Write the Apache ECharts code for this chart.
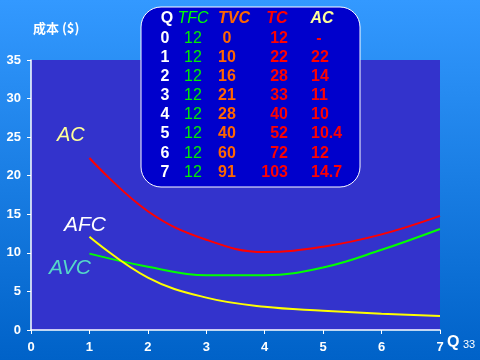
<!DOCTYPE html>
<html><head><meta charset="utf-8">
<script src="https://cdn.jsdelivr.net/npm/echarts@6/dist/echarts.min.js"></script>
<style>html,body{margin:0;padding:0;background:#1a7fe6;}#c{width:480px;height:360px;}</style>
</head><body><div id="c"></div>
<script>
// Table data
const qTable = [0, 1, 2, 3, 4, 5, 6, 7];
const tfcTable = [12, 12, 12, 12, 12, 12, 12, 12];
const tvcTable = [0, 10, 16, 21, 28, 40, 60, 91];
const tcTable = [12, 22, 28, 33, 40, 52, 72, 103];
const acTable = ['-', '22', '14', '11', '10', '10.4', '12', '14.7'];
const tableHeaders = ['Q', 'TFC', 'TVC', 'TC', 'AC'];

// Curve data (Q = 1..7)
const qValues = [1, 2, 3, 4, 5, 6, 7];
const acValues = [22.3, 15.4, 11.7, 10.1, 10.8, 12.4, 14.8];
const avcValues = [9.9, 8.2, 7.1, 7.1, 8.1, 10.4, 13.1];
const afcValues = [12.1, 6.8, 4.2, 3.0, 2.5, 2.1, 1.8];

const xTicks = [0, 1, 2, 3, 4, 5, 6, 7];
const yTicks = [0, 5, 10, 15, 20, 25, 30, 35];

const chart = echarts.init(document.getElementById('c'), null, {renderer: 'canvas'});

const FONT = '"Liberation Sans", Arial, sans-serif';
const shadow = {textShadowColor: 'rgba(0,0,0,0.9)', textShadowOffsetX: 1, textShadowOffsetY: 1, textShadowBlur: 0};

function txt(text, x, y, opts) {
  return {
    type: 'text', x: x, y: y, z: 20,
    style: Object.assign({
      text: String(text), fontFamily: FONT, fontSize: 16, fontWeight: 'bold',
      fill: '#fff', align: 'center', verticalAlign: 'middle'
    }, opts || {})
  };
}

const graphics = [];
// table box
graphics.push({
  type: 'rect', z: 15,
  shape: {x: 141, y: 7, width: 219, height: 180, r: 20},
  style: {fill: '#0000cc', stroke: '#ffffff', lineWidth: 1}
});
// headers
const hy = 19;
graphics.push(txt(tableHeaders[0], 167, hy, shadow));
graphics.push(txt(tableHeaders[1], 193, hy, {fill: '#00ff00', fontStyle: 'italic', fontWeight: 'normal', fontSize: 16}));
graphics.push(txt(tableHeaders[2], 234, hy, Object.assign({fill: '#ff6600', fontStyle: 'italic'}, shadow)));
graphics.push(txt(tableHeaders[3], 277, hy, Object.assign({fill: '#ff0000', fontStyle: 'italic'}, shadow)));
graphics.push(txt(tableHeaders[4], 322, hy, Object.assign({fill: '#ffff99', fontStyle: 'italic'}, shadow)));
// rows
for (let i = 0; i < qTable.length; i++) {
  const y = 38.5 + i * 19.1;
  graphics.push(txt(qTable[i], 165, y, shadow));
  graphics.push(txt(tfcTable[i], 193, y, {fill: '#00ee00', fontWeight: 'normal', fontSize: 16}));
  graphics.push(txt(tvcTable[i], 227, y, Object.assign({fill: '#ff6600'}, shadow)));
  graphics.push(txt(tcTable[i], 288, y, Object.assign({fill: '#ff0000', align: 'right'}, shadow)));
  graphics.push(txt(acTable[i], acTable[i] === '-' ? 319 : 311, y, Object.assign({fill: '#ff0000', align: acTable[i] === '-' ? 'center' : 'left'}, shadow)));
}
// title
graphics.push(txt('成本 ($)', 33, 28, {fontFamily: '"Noto Sans CJK SC", sans-serif', fontSize: 13, align: 'left'}));
// curve labels
graphics.push(txt('AC', 57, 135, {fill: '#ffff99', fontStyle: 'italic', fontWeight: 'normal', fontSize: 20, align: 'left', textShadowColor: 'rgba(0,0,0,0.8)', textShadowOffsetX: 1, textShadowOffsetY: 1}));
graphics.push(txt('AFC', 64, 225, {fill: '#ffffff', fontStyle: 'italic', fontWeight: 'normal', fontSize: 21, align: 'left', textShadowColor: 'rgba(0,0,0,0.8)', textShadowOffsetX: 1, textShadowOffsetY: 1}));
graphics.push(txt('AVC', 49, 268, {fill: '#55d8c8', fontStyle: 'italic', fontWeight: 'normal', fontSize: 21, align: 'left'}));
// Q and page number
graphics.push(txt('Q', 447, 343, Object.assign({fontSize: 16, align: 'left'}, shadow)));
graphics.push(txt('33', 463, 345, {fontSize: 11, fontWeight: 'normal', align: 'left', textShadowColor: '#000', textShadowOffsetX: 1, textShadowOffsetY: 1}));

const axisCommon = {
  axisLine: {show: true, lineStyle: {color: '#ffffff', width: 1.5}},
  axisTick: {show: true, inside: false, length: 4, lineStyle: {color: '#ffffff'}},
  splitLine: {show: false},
  axisLabel: {color: '#ffffff', fontFamily: FONT, fontWeight: 'bold', fontSize: 13}
};

chart.setOption({
  animation: false,
  backgroundColor: {
    type: 'linear', x: 0, y: 0, x2: 0, y2: 1,
    colorStops: [{offset: 0, color: '#3399ff'}, {offset: 1, color: '#0062c8'}]
  },
  grid: {left: 31, right: 40, top: 60, bottom: 30, show: true, backgroundColor: '#3333cc', borderWidth: 0},
  xAxis: Object.assign({}, axisCommon, {
    type: 'value', min: xTicks[0], max: xTicks[xTicks.length - 1], interval: 1,
    axisLabel: Object.assign({}, axisCommon.axisLabel, {margin: 11})
  }),
  yAxis: Object.assign({}, axisCommon, {
    type: 'value', min: yTicks[0], max: yTicks[yTicks.length - 1], interval: 5,
    axisLabel: Object.assign({}, axisCommon.axisLabel, {margin: 10})
  }),
  series: [
    {type: 'line', name: 'AC', smooth: 0.4, symbol: 'none', lineStyle: {color: '#ff0000', width: 2},
     data: qValues.map((q, i) => [q, acValues[i]])},
    {type: 'line', name: 'AVC', smooth: 0.4, symbol: 'none', lineStyle: {color: '#00ff00', width: 2},
     data: qValues.map((q, i) => [q, avcValues[i]])},
    {type: 'line', name: 'AFC', smooth: 0.4, symbol: 'none', lineStyle: {color: '#ffff00', width: 2},
     data: qValues.map((q, i) => [q, afcValues[i]])}
  ],
  graphic: graphics
});
</script>
</body></html>
